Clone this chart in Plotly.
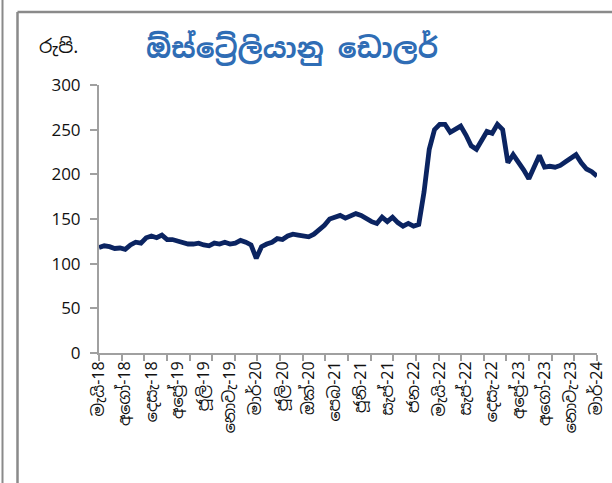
import plotly.graph_objects as go

# Rs. per AUD, sampled evenly along the category axis (May-2018 .. Mar-2024)
rate = [
    118, 120, 119, 117, 117.5, 116, 121, 124, 123, 129,
    131, 129, 132, 127, 127, 125, 124, 122, 122, 123,
    121, 120, 123, 122, 124, 122, 123, 126, 124, 121,
    106, 119, 122, 124, 128, 127, 131, 133, 132, 131,
    130, 133, 138, 143, 150, 152, 154, 151, 154, 156,
    154, 150, 147, 145, 152, 147, 152, 146, 142, 145,
    142, 144, 180, 228, 250, 256, 256, 247, 251, 254,
    244, 232, 228, 239, 248, 246, 256, 250, 213, 222,
    214, 205, 195, 208, 221, 208, 209, 208, 210, 214,
    218, 222, 213, 206, 203, 198,
]
step = 2  # category units per sample

month_labels = [
    "මැයි-18", "අගෝ-18", "දෙසැ-18", "අප්‍රේ-19", "ජූලි-19",
    "නොවැ-19", "මාර්-20", "ජූලි-20", "ඔක්-20", "පෙබ-21",
    "ජූනි-21", "සැප්-21", "ජන-22", "මැයි-22", "සැප්-22",
    "දෙසැ-22", "අප්‍රේ-23", "අගෝ-23", "නොවැ-23", "මාර්-24",
]

x = [i * step for i in range(len(rate))]
x_end = x[-1]
label_pos = [i * x_end / (len(month_labels) - 1) for i in range(len(month_labels))]

W, H = 612, 483
ml, mr, mt, mb = 99, 15, 85, 130
pw, ph = W - ml - mr, H - mt - mb


def px(v):
    return (v - ml) / pw


def py(v):
    return (H - mb - v) / ph


font_si = "Noto Sans Sinhala, Noto Sans, DejaVu Sans, sans-serif"
axis_grey = "#a0a0a0"
frame_grey = "#8a8a8a"
frame_top = 12

fig = go.Figure()
fig.add_trace(
    go.Scatter(
        x=x,
        y=rate,
        mode="lines",
        line=dict(color="#0b2461", width=4.8),
        showlegend=False,
        hoverinfo="skip",
    )
)

fig.update_xaxes(
    range=[0, x_end],
    tickmode="array",
    tickvals=label_pos,
    ticktext=month_labels,
    tickangle=-90,
    ticks="",
    showline=True,
    linecolor=axis_grey,
    linewidth=2,
    showgrid=False,
    zeroline=False,
    tickfont=dict(family=font_si, size=16, color="#111"),
    minor=dict(ticks="outside", ticklen=6, tickwidth=2, tickcolor=axis_grey,
               tick0=0, dtick=x_end / 22, showgrid=False),
)
fig.update_yaxes(
    range=[0, 300],
    dtick=50,
    ticks="outside",
    ticklen=7,
    tickwidth=2,
    tickcolor=axis_grey,
    ticklabelstandoff=6,
    showline=True,
    linecolor=axis_grey,
    linewidth=2,
    showgrid=False,
    zeroline=False,
    tickfont=dict(family="Open Sans, sans-serif", size=17, color="#111"),
)

# chart frame remnants: outer left edge, inner chart border top and left
fig.add_shape(type="line", xref="paper", yref="paper",
              x0=px(2.5), x1=px(2.5), y0=py(0), y1=py(H),
              line=dict(color=frame_grey, width=2))
fig.add_shape(type="line", xref="paper", yref="paper",
              x0=px(17.5), x1=px(17.5), y0=py(frame_top), y1=py(H),
              line=dict(color=frame_grey, width=2.5))
fig.add_shape(type="line", xref="paper", yref="paper",
              x0=px(17.5), x1=px(W), y0=py(frame_top), y1=py(frame_top),
              line=dict(color=frame_grey, width=2.5))

fig.add_annotation(
    text="<b>ඕස්ට්‍රේලියානු ඩොලර්</b>",
    xref="paper", yref="paper", x=px(292), y=py(48),
    xanchor="center", yanchor="middle", showarrow=False,
    font=dict(family=font_si, size=28, color="#2f6db5"),
)
fig.add_annotation(
    text="රුපි.",
    xref="paper", yref="paper", x=px(37), y=py(47),
    xanchor="left", yanchor="middle", showarrow=False,
    font=dict(family=font_si, size=19, color="#111"),
)

fig.update_layout(
    width=W,
    height=H,
    margin=dict(l=ml, r=mr, t=mt, b=mb, autoexpand=False),
    paper_bgcolor="white",
    plot_bgcolor="white",
)

fig.write_html(
    "out.html",
    config={"displayModeBar": False},
    post_script="document.body.style.margin='0';",
)
